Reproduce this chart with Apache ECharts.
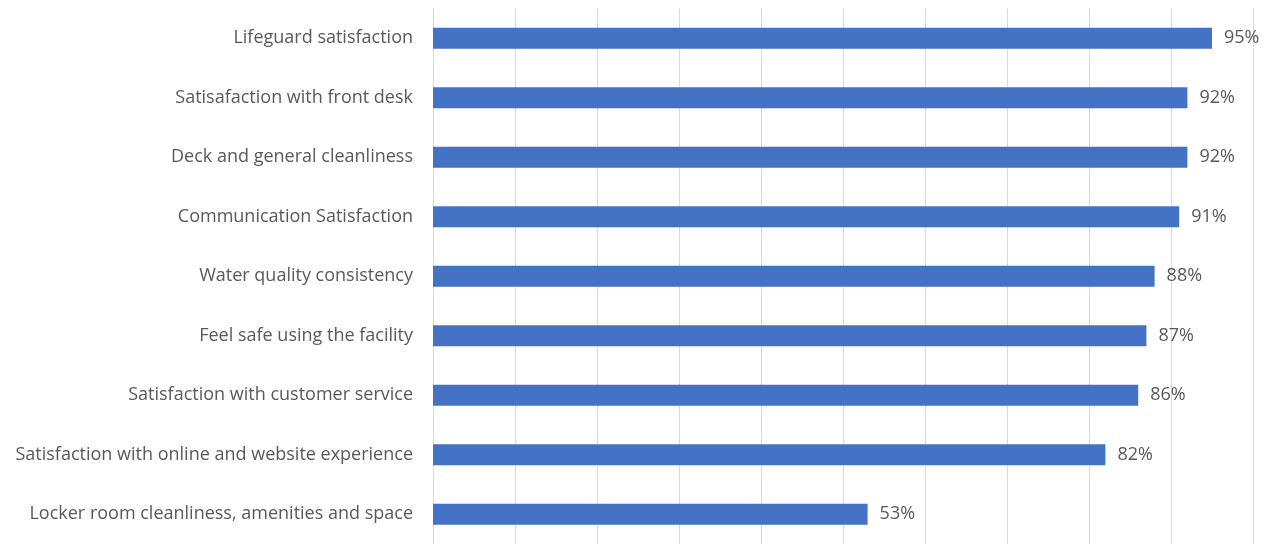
<!DOCTYPE html>
<html>
<head>
<meta charset="utf-8">
<script src="https://cdn.jsdelivr.net/npm/echarts@6/dist/echarts.min.js"></script>
<style>
  html, body { margin: 0; padding: 0; background: #ffffff; }
  #chart { width: 1270px; height: 544px; }
</style>
</head>
<body>
<div id="chart"></div>
<script>
// Survey satisfaction scores, top to bottom
const categories = [
  'Lifeguard satisfaction',
  'Satisafaction with front desk',
  'Deck and general cleanliness',
  'Communication Satisfaction',
  'Water quality consistency',
  'Feel safe using the facility',
  'Satisfaction with customer service',
  'Satisfaction with online and website experience',
  'Locker room cleanliness, amenities and space'
];
const scores = [95, 92, 92, 91, 88, 87, 86, 82, 53];

const textColor = '#595959';
const gridColor = '#d9d9d9';
const fontFamily = '"Open Sans", "Liberation Sans", sans-serif';

const chart = echarts.init(document.getElementById('chart'), null, { renderer: 'canvas' });
chart.setOption({
  animation: false,
  backgroundColor: '#ffffff',
  grid: { left: 433, right: 17, top: 8.5, bottom: 0, containLabel: false },
  xAxis: {
    type: 'value',
    min: 0,
    max: 100,
    interval: 10,
    axisLabel: { show: false },
    axisLine: { show: false },
    axisTick: { show: false },
    splitLine: { show: true, lineStyle: { color: gridColor, width: 1 } }
  },
  yAxis: {
    type: 'category',
    inverse: true,
    data: categories,
    axisLine: { show: true, lineStyle: { color: gridColor, width: 1 } },
    axisTick: { show: false },
    axisLabel: { margin: 20, color: textColor, fontSize: 18, fontFamily: fontFamily }
  },
  series: [{
    type: 'bar',
    data: scores,
    barCategoryGap: '65%',
    itemStyle: { color: '#4472C4' },
    label: {
      show: true,
      position: 'right',
      distance: 12,
      formatter: '{c}%',
      color: textColor,
      fontSize: 18,
      fontFamily: fontFamily
    }
  }]
});
</script>
</body>
</html>
